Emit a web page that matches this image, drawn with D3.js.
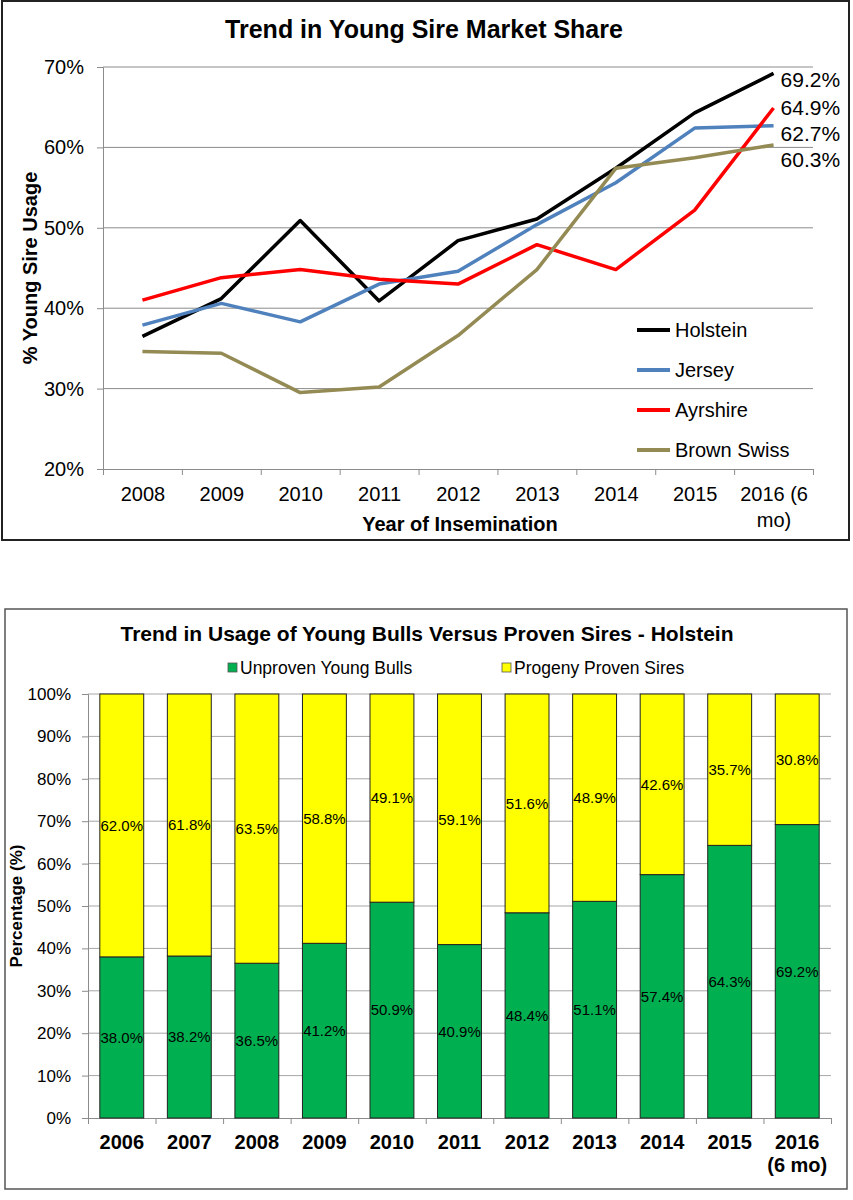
<!DOCTYPE html>
<html>
<head>
<meta charset="utf-8">
<script src="https://cdn.jsdelivr.net/npm/d3@7"></script>
<style>
  body { margin: 0; background: #fff; }
  text { font-family: "Liberation Sans", Arial, sans-serif; }
</style>
</head>
<body>
<svg id="canvas"></svg>
<script>
/* data for the top line chart */
let years = ['2008', '2009', '2010', '2011', '2012', '2013', '2014', '2015', '2016 (6 mo)'];
let yearLabels = [['2008'], ['2009'], ['2010'], ['2011'], ['2012'], ['2013'], ['2014'], ['2015'], ['2016 (6', 'mo)']];
let breeds = ['Holstein', 'Jersey', 'Ayrshire', 'Brown Swiss'];
let holstein = [36.5, 41.2, 50.9, 40.9, 48.4, 51.1, 57.4, 64.3, 69.2];
let jersey = [37.9, 40.6, 38.3, 43.0, 44.6, 50.4, 55.6, 62.4, 62.7];
let ayrshire = [41.0, 43.8, 44.8, 43.6, 43.0, 47.9, 44.8, 52.2, 64.9];
let brownSwiss = [34.6, 34.4, 29.5, 30.2, 36.6, 44.8, 57.4, 58.7, 60.3];
let topTicks = [20, 30, 40, 50, 60, 70];

/* data for the bottom stacked bar chart */
let barYears = ['2006', '2007', '2008', '2009', '2010', '2011', '2012', '2013', '2014', '2015', '2016 (6 mo)'];
let barLabels = [['2006'], ['2007'], ['2008'], ['2009'], ['2010'], ['2011'], ['2012'], ['2013'], ['2014'], ['2015'], ['2016', '(6 mo)']];
let youngBulls = [38.0, 38.2, 36.5, 41.2, 50.9, 40.9, 48.4, 51.1, 57.4, 64.3, 69.2];
let provenSires = [62.0, 61.8, 63.5, 58.8, 49.1, 59.1, 51.6, 48.9, 42.6, 35.7, 30.8];
let stackKeys = ['Unproven Young Bulls', 'Progeny Proven Sires'];
let barTicks = [0, 10, 20, 30, 40, 50, 60, 70, 80, 90, 100];

let width = 853;
let height = 1200;

let breedColors = ['#000000', '#4f81bd', '#ff0000', '#948a54'];
let stackColors = ['#00b050', '#ffff00'];

let svg = d3.select('#canvas').attr('width', width).attr('height', height);

/* multi line tick labels */
let splitLabels = (axisG, labels, lineGap) => {
    axisG.selectAll('.tick text').each(function (d, i) {
        let t = d3.select(this);
        t.text(null);
        labels[i].forEach((line, k) => {
            t.append('tspan').attr('x', 0).attr('dy', k === 0 ? '0.71em' : lineGap).text(line);
        });
    });
};

/* ---------- top chart: Trend in Young Sire Market Share ---------- */
let drawTop = () => {
    let series = [holstein, jersey, ayrshire, brownSwiss];
    let g = svg.append('g');

    g.append('rect')
        .attr('x', 2).attr('y', 1).attr('width', 847).attr('height', 539)
        .attr('fill', '#fff').attr('stroke', '#222').attr('stroke-width', 2);

    let x = d3.scalePoint().domain(years).range([103, 813]).padding(0.5);
    let xEdge = d3.scaleLinear().domain([0, years.length]).range([103, 813]);
    let y = d3.scaleLinear().domain([20, 70]).range([469, 67]);

    g.append('text')
        .attr('x', 424).attr('y', 38)
        .attr('text-anchor', 'middle')
        .attr('font-size', 25).attr('font-weight', 'bold')
        .text('Trend in Young Sire Market Share');

    /* gridlines */
    g.selectAll('.grid')
        .data(topTicks.slice(1))
        .enter().append('line')
        .attr('x1', 103).attr('x2', 813)
        .attr('y1', d => y(d)).attr('y2', d => y(d))
        .attr('stroke', '#8c8c8c').attr('stroke-width', 1);

    let yAxis = g.append('g')
        .attr('transform', 'translate(103,0)')
        .call(d3.axisLeft(y).tickValues(topTicks).tickFormat(d => d + '%').tickSize(6).tickPadding(13));
    yAxis.selectAll('path, line').attr('stroke', '#8c8c8c');
    yAxis.selectAll('text').attr('font-size', 20).attr('font-family', '"Liberation Sans", Arial, sans-serif').attr('fill', '#000');

    let xTicks = g.append('g')
        .attr('transform', 'translate(0,469)')
        .call(d3.axisBottom(xEdge).tickValues(d3.range(years.length + 1)).tickFormat('').tickSize(6));
    xTicks.selectAll('path, line').attr('stroke', '#8c8c8c');

    let xAxis = g.append('g')
        .attr('transform', 'translate(0,469)')
        .call(d3.axisBottom(x).tickSize(0).tickPadding(18));
    xAxis.select('.domain').remove();
    xAxis.selectAll('text').attr('font-size', 20).attr('font-family', '"Liberation Sans", Arial, sans-serif').attr('fill', '#000');
    splitLabels(xAxis, yearLabels, '1.3em');

    g.append('text')
        .attr('x', 460).attr('y', 531)
        .attr('text-anchor', 'middle')
        .attr('font-size', 20).attr('font-weight', 'bold')
        .text('Year of Insemination');

    g.append('text')
        .attr('transform', 'translate(37,268) rotate(-90)')
        .attr('text-anchor', 'middle')
        .attr('font-size', 20).attr('font-weight', 'bold')
        .text('% Young Sire Usage');

    let line = d3.line().x((d, i) => x(years[i])).y(d => y(d));

    g.selectAll('.series')
        .data(series)
        .enter().append('path')
        .attr('d', line)
        .attr('fill', 'none')
        .attr('stroke', (d, i) => breedColors[i])
        .attr('stroke-width', 3.5)
        .attr('stroke-linejoin', 'round');

    /* end values, pushed apart so they do not overlap */
    let last = years.length - 1;
    let order = d3.range(series.length).sort((a, b) => series[b][last] - series[a][last]);
    let prev = -Infinity;
    order.forEach((si, k) => {
        let ly = y(series[si][last]) + (k === 0 ? 6 : 0);
        ly = Math.max(ly, prev + 26);
        prev = ly;
        g.append('text')
            .attr('x', x(years[last]) + 7).attr('y', ly)
            .attr('dy', '0.35em')
            .attr('font-size', 21)
            .text(series[si][last].toFixed(1) + '%');
    });

    /* legend */
    let legend = g.selectAll('.legend')
        .data(breeds)
        .enter().append('g')
        .attr('transform', (d, i) => 'translate(637,' + (330 + i * 40) + ')');
    legend.append('line')
        .attr('x1', 0).attr('x2', 33)
        .attr('stroke', (d, i) => breedColors[i]).attr('stroke-width', 4);
    legend.append('text')
        .attr('x', 38).attr('dy', '0.35em')
        .attr('font-size', 20)
        .text(d => d);
};

/* ---------- bottom chart: young bulls vs proven sires ---------- */
let drawBottom = () => {
    let g = svg.append('g');

    g.append('rect')
        .attr('x', 5).attr('y', 609).attr('width', 842).attr('height', 580)
        .attr('fill', '#fff').attr('stroke', '#555').attr('stroke-width', 1.5);

    let x = d3.scaleBand().domain(barYears).range([88, 831]).paddingInner(0.35).paddingOuter(0.175);
    let xEdge = d3.scaleLinear().domain([0, barYears.length]).range([88, 831]);
    let y = d3.scaleLinear().domain([0, 100]).range([1118, 694]);

    g.append('text')
        .attr('x', 427).attr('y', 641)
        .attr('text-anchor', 'middle')
        .attr('font-size', 21).attr('font-weight', 'bold')
        .text('Trend in Usage of Young Bulls Versus Proven Sires - Holstein');

    /* legend */
    let legendX = [228, 502];
    let legend = g.selectAll('.legend')
        .data(stackKeys)
        .enter().append('g')
        .attr('transform', (d, i) => 'translate(' + legendX[i] + ',668)');
    legend.append('rect')
        .attr('x', 0).attr('y', -5).attr('width', 9).attr('height', 9)
        .attr('fill', (d, i) => stackColors[i]).attr('stroke', '#555').attr('stroke-width', 0.8);
    legend.append('text')
        .attr('x', 12).attr('dy', '0.35em')
        .attr('font-size', 17.5)
        .text(d => d);

    g.selectAll('.grid')
        .data(barTicks.slice(1))
        .enter().append('line')
        .attr('x1', 88).attr('x2', 831)
        .attr('y1', d => y(d)).attr('y2', d => y(d))
        .attr('stroke', '#a6a6a6').attr('stroke-width', 1);

    let yAxis = g.append('g')
        .attr('transform', 'translate(88,0)')
        .call(d3.axisLeft(y).tickValues(barTicks).tickFormat(d => d + '%').tickSize(6).tickPadding(11));
    yAxis.selectAll('path, line').attr('stroke', '#8c8c8c');
    yAxis.selectAll('text').attr('font-size', 17).attr('font-family', '"Liberation Sans", Arial, sans-serif').attr('fill', '#000');

    let xTicks = g.append('g')
        .attr('transform', 'translate(0,1118)')
        .call(d3.axisBottom(xEdge).tickValues(d3.range(barYears.length + 1)).tickFormat('').tickSize(6));
    xTicks.selectAll('path, line').attr('stroke', '#8c8c8c');

    let xAxis = g.append('g')
        .attr('transform', 'translate(0,1118)')
        .call(d3.axisBottom(x).tickSize(0).tickPadding(17));
    xAxis.select('.domain').remove();
    xAxis.selectAll('text').attr('font-size', 20).attr('font-weight', 'bold').attr('font-family', '"Liberation Sans", Arial, sans-serif').attr('fill', '#000');
    splitLabels(xAxis, barLabels, '1.15em');

    g.append('text')
        .attr('transform', 'translate(22,906) rotate(-90)')
        .attr('text-anchor', 'middle')
        .attr('font-size', 17).attr('font-weight', 'bold')
        .text('Percentage (%)');

    /* stacked segments */
    let rows = barYears.map((yr, i) => ({ year: yr, young: youngBulls[i], proven: provenSires[i] }));
    let stacked = d3.stack().keys(['young', 'proven'])(rows);

    let layers = g.selectAll('.layer')
        .data(stacked)
        .enter().append('g')
        .attr('fill', (d, i) => stackColors[i]);

    layers.selectAll('rect')
        .data(d => d)
        .enter().append('rect')
        .attr('x', d => x(d.data.year))
        .attr('width', x.bandwidth())
        .attr('y', d => y(d[1]))
        .attr('height', d => y(d[0]) - y(d[1]))
        .attr('stroke', '#222').attr('stroke-width', 1);

    layers.each(function (layer) {
        d3.select(this).selectAll('text')
            .data(layer)
            .enter().append('text')
            .attr('x', d => x(d.data.year) + x.bandwidth() / 2)
            .attr('y', d => y((d[0] + d[1]) / 2))
            .attr('dy', '0.35em')
            .attr('text-anchor', 'middle')
            .attr('font-size', 15)
            .attr('fill', '#000')
            .text(d => d.data[layer.key].toFixed(1) + '%');
    });
};

drawTop();
drawBottom();
</script>
</body>
</html>
